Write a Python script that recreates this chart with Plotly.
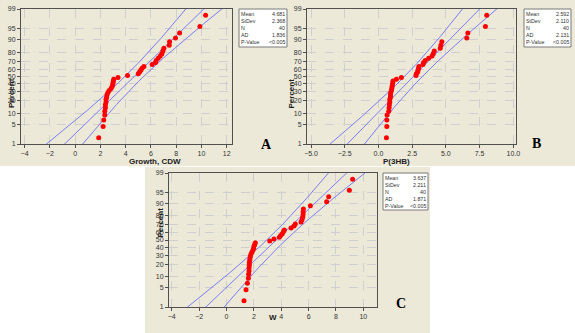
import numpy as np
import plotly.graph_objects as go
from statistics import NormalDist

W, H = 575, 333
nd = NormalDist()

# Probability-scale ticks (percent)
pct_ticks = [1, 5, 10, 20, 30, 40, 50, 60, 70, 80, 90, 95, 99]

# Sorted observations for each variable (n = 40)
growth_cdw = [1.87, 2.22, 2.27, 2.35, 2.35, 2.40, 2.40, 2.45, 2.45, 2.50,
              2.53, 2.60, 2.70, 2.85, 2.93, 2.98, 3.00, 3.03, 3.06, 3.40,
              4.15, 5.00, 5.10, 5.20, 5.30, 5.45, 6.10, 6.37, 6.42, 6.58,
              6.74, 6.87, 6.95, 7.03, 7.45, 7.48, 7.95, 8.27, 9.88, 10.33]
p3hb = [0.59, 0.62, 0.62, 0.64, 0.76, 0.79, 0.81, 0.84, 0.84, 0.89,
        0.89, 0.91, 0.96, 0.99, 1.01, 1.03, 1.06, 1.08, 1.33, 1.70,
        2.78, 2.81, 2.91, 2.93, 2.98, 3.00, 3.30, 3.35, 3.47, 3.72,
        3.97, 4.06, 4.14, 4.58, 4.63, 4.70, 6.55, 6.63, 7.93, 8.03]
w_vals = [1.28, 1.43, 1.53, 1.60, 1.62, 1.65, 1.65, 1.67, 1.67, 1.70,
          1.72, 1.75, 1.80, 1.87, 1.94, 1.99, 2.01, 2.06, 2.11, 3.16,
          3.47, 3.86, 3.96, 4.08, 4.16, 4.23, 4.72, 4.94, 5.03, 5.45,
          5.52, 5.57, 5.60, 5.60, 5.62, 6.13, 7.32, 7.47, 8.98, 9.22]

# Summary statistics shown in the legend boxes
stat_labels = ["Mean", "StDev", "N", "AD", "P-Value"]
stats_cdw = ["4.681", "2.368", "40", "1.836", "<0.005"]
stats_p3hb = ["2.592", "2.110", "40", "2.131", "<0.005"]
stats_w = ["3.637", "2.211", "40", "1.871", "<0.005"]
means = [4.681, 2.592, 3.637]
sdevs = [2.368, 2.110, 2.211]
ns = [40, 40, 40]

BEIGE = "#ECE9D8"
LINE_BLUE = "#7C7CF4"
GRID = "#CFCFCF"


def fx(px):
    return px / W


def fy(py):
    return 1 - py / H


panels = [
    dict(letter="A", data=growth_cdw, stats=stats_cdw, title="Growth, CDW",
         bg=(0, 0, 288, 166), plot=(21, 9, 232, 144), xr=[-4.28, 12.42],
         dtick=2, fmt="d", box=(239, 9, 287, 47), lpos=(266, 144)),
    dict(letter="B", data=p3hb, stats=stats_p3hb, title="P(3HB)",
         bg=(288, 0, 575, 166), plot=(307, 9, 516, 144), xr=[-5.3, 10.2],
         dtick=2.5, fmt=".1f", box=(524, 9, 571, 47), lpos=(543, 143)),
    dict(letter="C", data=w_vals, stats=stats_w, title="W",
         bg=(145, 167, 430, 333), plot=(169, 173, 377, 307), xr=[-4.2, 11.0],
         dtick=2, fmt="d", box=(383, 173, 428, 210), lpos=(408, 313)),
]

zlim = nd.inv_cdf(0.99)
tickvals = [nd.inv_cdf(p / 100) for p in pct_ticks]

fig = go.Figure()
shapes = []
annotations = []

for k, pn in enumerate(panels):
    sfx = "" if k == 0 else str(k + 1)
    xa, ya = "x" + sfx, "y" + sfx
    x0, y0, x1, y1 = pn["plot"]

    # panel background
    bx0, by0, bx1, by1 = pn["bg"]
    shapes.append(dict(type="rect", xref="paper", yref="paper",
                       x0=fx(bx0), x1=fx(bx1), y0=fy(by1), y1=fy(by0),
                       fillcolor=BEIGE, line=dict(width=0), layer="below"))

    # fitted line with 95% confidence bands
    m, s, n = means[k], sdevs[k], ns[k]
    z = np.linspace(-2.8, 2.8, 120)
    xp = m + s * z
    half = 1.96 * s * np.sqrt(1.0 / n + z ** 2 / (2.0 * n))
    for xs in (xp - half, xp, xp + half):
        fig.add_trace(go.Scatter(x=xs, y=z, mode="lines",
                                 line=dict(color=LINE_BLUE, width=1),
                                 xaxis=xa, yaxis=ya, hoverinfo="skip",
                                 showlegend=False))

    # observations at median-rank plotting positions
    data = sorted(pn["data"])
    nn = len(data)
    zs = [nd.inv_cdf((i - 0.3) / (nn + 0.4)) for i in range(1, nn + 1)]
    fig.add_trace(go.Scatter(x=data, y=zs, mode="markers",
                             marker=dict(color="#FF0000", size=5),
                             xaxis=xa, yaxis=ya, showlegend=False))

    axis_common = dict(showline=True, linecolor="#505050", linewidth=1,
                       mirror=True, ticks="outside", ticklen=3,
                       tickcolor="#505050", showgrid=True, gridcolor=GRID,
                       griddash="dash", gridwidth=1, zeroline=False,
                       automargin=False,
                       tickfont=dict(family="Liberation Sans", size=7,
                                     color="#333333"))
    fig.update_layout({
        "xaxis" + sfx: dict(axis_common, domain=[fx(x0), fx(x1)],
                            range=pn["xr"], dtick=pn["dtick"], tick0=0,
                            tickformat=pn["fmt"], anchor=ya),
        "yaxis" + sfx: dict(axis_common, domain=[fy(y1), fy(y0)],
                            range=[-zlim, zlim], tickvals=tickvals,
                            ticktext=[str(p) for p in pct_ticks],
                            anchor=xa),
    })

    # axis titles
    annotations.append(dict(xref="paper", yref="paper",
                            x=fx((x0 + x1) / 2), y=fy(y1 + 17),
                            text="<b>%s</b>" % pn["title"], showarrow=False,
                            font=dict(family="Liberation Sans", size=8,
                                      color="#222222")))
    annotations.append(dict(xref="paper", yref="paper",
                            x=fx(x0 - 16), y=fy((y0 + y1) / 2),
                            text="<b>Percent</b>", textangle=-90,
                            showarrow=False,
                            font=dict(family="Liberation Sans", size=8,
                                      color="#222222")))

    # statistics box
    sx0, sy0, sx1, sy1 = pn["box"]
    shapes.append(dict(type="rect", xref="paper", yref="paper",
                       x0=fx(sx0), x1=fx(sx1), y0=fy(sy1), y1=fy(sy0),
                       fillcolor="white", line=dict(color="#7A7A7A", width=1)))
    for r, (lab, val) in enumerate(zip(stat_labels, pn["stats"])):
        yy = fy(sy0 + 5 + r * 7.1)
        annotations.append(dict(xref="paper", yref="paper", x=fx(sx0 + 1),
                                y=yy, text=lab, showarrow=False,
                                xanchor="left", yanchor="middle",
                                borderpad=0,
                                font=dict(family="Liberation Sans", size=5.3,
                                          color="#333333")))
        annotations.append(dict(xref="paper", yref="paper", x=fx(sx1 - 1),
                                y=yy, text=val, showarrow=False,
                                xanchor="right", yanchor="middle",
                                borderpad=0,
                                font=dict(family="Liberation Sans", size=5.3,
                                          color="#333333")))

    # panel letter
    lx, ly = pn["lpos"]
    annotations.append(dict(xref="paper", yref="paper", x=fx(lx), y=fy(ly),
                            text="<b>%s</b>" % pn["letter"], showarrow=False,
                            font=dict(family="Liberation Serif", size=14,
                                      color="black")))

fig.update_layout(width=W, height=H, margin=dict(l=0, r=0, t=0, b=0),
                  paper_bgcolor="white", plot_bgcolor="white",
                  shapes=shapes, annotations=annotations, showlegend=False)

fig.write_html("out.html")
